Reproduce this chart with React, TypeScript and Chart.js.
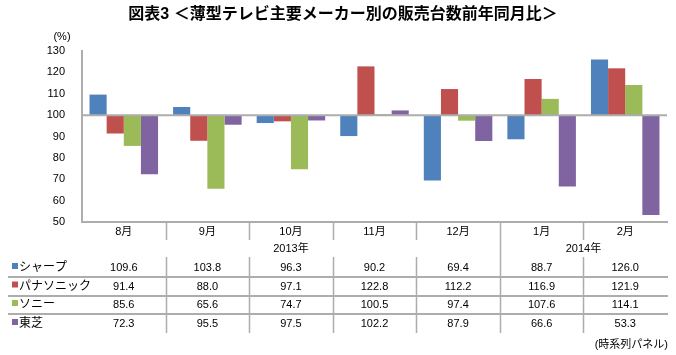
import React, { useEffect, useRef } from "react";
import { Chart, registerables } from "chart.js";

Chart.register(...registerables);

const categories = ["8月", "9月", "10月", "11月", "12月", "1月", "2月"];
const years = ["2013年", "2014年"];
const yearSplit = 5; // index where 2014 begins
const seriesNames = ["シャープ", "パナソニック", "ソニー", "東芝"];
const sharp = [109.6, 103.8, 96.3, 90.2, 69.4, 88.7, 126.0];
const panasonic = [91.4, 88.0, 97.1, 122.8, 112.2, 116.9, 121.9];
const sony = [85.6, 65.6, 74.7, 100.5, 97.4, 107.6, 114.1];
const toshiba = [72.3, 95.5, 97.5, 102.2, 87.9, 66.6, 53.3];
const colors = ["#4F81BD", "#C0504D", "#9BBB59", "#8064A2"];
const titleText = "図表3 ＜薄型テレビ主要メーカー別の販売台数前年同月比＞";
const unitText = "(%)";
const sourceText = "(時系列パネル)";

const FONT = "'Liberation Sans', Arial, 'Noto Sans CJK JP', sans-serif";
const JFONT = "'Liberation Sans', 'Noto Sans CJK JP', sans-serif";

export default function App() {
  const ref = useRef<HTMLCanvasElement | null>(null);
  useEffect(() => {
    const canvas = ref.current;
    if (!canvas) return;
    const allSeries = [sharp, panasonic, sony, toshiba];

    const tablePlugin = {
      id: "tablePlugin",
      afterDatasetsDraw(chart: any) {
        const ctx = chart.ctx;
        const y = chart.scales.y;
        const area = chart.chartArea;
        const y100 = y.getPixelForValue(100);
        ctx.save();
        ctx.strokeStyle = "#ADADAD";
        ctx.lineWidth = 2;
        ctx.beginPath();
        ctx.moveTo(area.left, y100);
        ctx.lineTo(area.right, y100);
        ctx.stroke();
        ctx.restore();
      },
      afterDraw(chart: any) {
        const ctx = chart.ctx;
        const area = chart.chartArea;
        const n = categories.length;
        const w = (area.right - area.left) / n;
        const bx = (k: number) => Math.round(area.left + k * w) + 0.5;
        ctx.save();
        // title
        ctx.fillStyle = "#000";
        ctx.font = `bold 16px ${JFONT}`;
        ctx.textAlign = "center";
        ctx.textBaseline = "middle";
        ctx.fillText(titleText, 343, 15);
        // unit
        ctx.font = `11px ${JFONT}`;
        ctx.textAlign = "center";
        ctx.fillText(unitText, 62, 37);
        // category labels
        ctx.font = `11px ${JFONT}`;
        for (let i = 0; i < n; i++) {
          ctx.fillText(categories[i], area.left + (i + 0.5) * w, 232);
        }
        // years
        ctx.fillText(years[0], (area.left + area.left + yearSplit * w) / 2, 249);
        ctx.fillText(years[1], (area.left + yearSplit * w + area.right) / 2, 249);
        // vertical separators
        ctx.strokeStyle = "#ADADAD";
        ctx.lineWidth = 1.5;
        for (let k = 1; k < n; k++) {
          const x = bx(k);
          ctx.beginPath();
          if (k === yearSplit) {
            ctx.moveTo(x, area.bottom);
            ctx.lineTo(x, 333);
          } else {
            ctx.moveTo(x, area.bottom);
            ctx.lineTo(x, 240);
            ctx.moveTo(x, 257);
            ctx.lineTo(x, 333);
          }
          ctx.stroke();
        }
        // horizontal row lines
        const rowY = [268, 286.5, 305, 324];
        const lineY = [277, 296, 314];
        ctx.lineWidth = 2;
        for (const ly of lineY) {
          ctx.beginPath();
          ctx.moveTo(8, ly);
          ctx.lineTo(area.right + 1, ly);
          ctx.stroke();
        }
        // rows
        for (let s = 0; s < allSeries.length; s++) {
          const ry = rowY[s];
          ctx.fillStyle = colors[s];
          ctx.fillRect(12, ry - 5, 6, 6);
          ctx.fillStyle = "#000";
          ctx.textAlign = "left";
          ctx.font = `12px ${JFONT}`;
          ctx.fillText(seriesNames[s], 19, ry);
          ctx.textAlign = "center";
          ctx.font = `11px ${FONT}`;
          for (let i = 0; i < n; i++) {
            ctx.fillText(allSeries[s][i].toFixed(1), area.left + (i + 0.5) * w, ry);
          }
        }
        // source
        ctx.textAlign = "right";
        ctx.font = `11px ${JFONT}`;
        ctx.fillText(sourceText, 668, 345);
        ctx.restore();
      },
    };

    const chart = new Chart(canvas, {
      type: "bar",
      data: {
        labels: categories,
        datasets: allSeries.map((d, i) => ({
          label: seriesNames[i],
          data: d,
          base: 100,
          backgroundColor: colors[i],
          borderWidth: 0,
          categoryPercentage: 0.82,
          barPercentage: 1,
        })),
      },
      options: {
        responsive: false,
        animation: false,
        layout: { padding: { left: 0, right: 9, top: 51, bottom: 133 } },
        plugins: {
          legend: { display: false },
          title: { display: false },
          tooltip: { enabled: false },
        },
        scales: {
          x: {
            grid: { display: false },
            ticks: { display: false },
            border: { display: true, color: "#ADADAD", width: 2 },
            afterFit: (s: any) => {
              s.height = 0;
            },
          },
          y: {
            min: 50,
            max: 130,
            ticks: {
              stepSize: 10,
              color: "#000",
              font: { size: 11, family: FONT },
              padding: 9,
            },
            grid: { display: false },
            border: { display: true, color: "#ADADAD", width: 2 },
            afterFit: (s: any) => {
              s.width = 82;
            },
          },
        },
      },
      plugins: [tablePlugin],
    });
    return () => chart.destroy();
  }, []);

  return (
    <div style={{ position: "fixed", left: 0, top: 0, width: 676, height: 355, background: "#fff" }}>
      <canvas ref={ref} width={676} height={355} style={{ display: "block" }} />
    </div>
  );
}
